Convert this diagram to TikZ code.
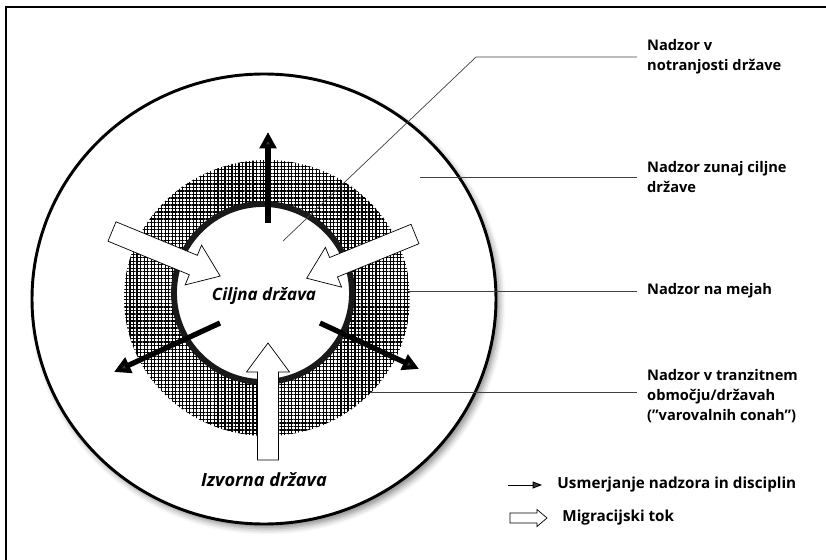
\documentclass[tikz,border=0pt]{standalone}
\usepackage{fontspec}
\setsansfont{Open Sans}
\usetikzlibrary{arrows.meta,patterns.meta,shadows.blur,positioning}

\tikzset{
  lbltxt/.style={anchor=west,align=left,inner xsep=8.5pt,inner ysep=0pt,
    font=\sffamily\bfseries\fontsize{12.5}{17}\selectfont},
  legtxt/.style={anchor=west,inner xsep=13pt,inner ysep=0pt,
    font=\sffamily\bfseries\fontsize{13}{15}\selectfont},
  statetxt/.style={inner sep=0pt,font=\sffamily\bfseries\itshape\fontsize{14.5}{17}\selectfont},
  leader/.style={line width=0.6pt,black!75},
  surv/.style={line width=4.5pt,-{Triangle[length=14pt,width=14pt]}},
  migflow/.style={line width=0.6pt,fill=white,line join=miter}
}

\newcommand{\migarrow}[2]{%
  \draw[migflow,shift={#1},rotate=#2]
    (0,-10.5) -- (88,-10.5) -- (88,-21.5) -- (117,0) -- (88,21.5) -- (88,10.5) -- (0,10.5) -- cycle;}

\begin{document}
\begin{tikzpicture}[x=0.03cm,y=-0.03cm]
\useasboundingbox (0,0) rectangle (826,560);

\def\frameline{1.2pt}
\def\outerline{2.5pt}
\def\innerline{5pt}

% frame
\draw[line width=\frameline] (6,7) rectangle (860,580);

% outside the target state
\draw[line width=\outerline,fill=white,
  blur shadow={shadow xshift=3pt,shadow yshift=-4pt,shadow blur radius=5pt,shadow opacity=45}]
  (264,299) ellipse [x radius=232, y radius=225];

% buffer zones (hatched)
\fill[pattern={Hatch[distance=3pt,line width=1pt]}] (267,298) ellipse [x radius=143, y radius=138];
\fill[white] (263,293) circle [radius=89];
\draw[line width=\innerline,black!90] (263,293) circle [radius=89];

% directions of control
\coordinate (up0) at (268,223);
\coordinate (up1) at (268,132);
\coordinate (lf0) at (220,323);
\coordinate (lf1) at (114,372);
\coordinate (rt0) at (320,323);
\coordinate (rt1) at (419,369);
\draw[surv] (up0) -- (up1);
\draw[surv] (lf0) -- (lf1);
\draw[surv] (rt0) -- (rt1);

% migration flows
\migarrow{(112,231.5)}{-22.4}
\migarrow{(415,234)}{202.2}
\migarrow{(268,460)}{90}

\node[statetxt] (ciljna) at (264,296) {Ciljna država};
\node[statetxt,font=\sffamily\bfseries\itshape\fontsize{15.5}{17}\selectfont] (izvorna) at (264,480) {Izvorna država};

% labels on the right
\node[lbltxt] (notr) at (637,57) {Nadzor v\\notranjosti države};
\node[lbltxt] (zunaj) at (637,177) {Nadzor zunaj ciljne\\države};
\node[lbltxt] (meja) at (637,291) {Nadzor na mejah};
\node[lbltxt] (tranz) at (637,396) {Nadzor v tranzitnem\\območju/državah\\(”varovalnih conah”)};

\coordinate (p1) at (283,241);
\coordinate (p1b) at (476,57);
\coordinate (p2) at (420,177);
\coordinate (p3) at (407,291);
\coordinate (p4) at (370,392);
\draw[leader] (p1) -- (p1b) -- (notr.west);
\draw[leader] (p2) -- (zunaj.west);
\draw[leader] (p3) -- (meja.west);
\draw[leader] (p4) -- (p4 -| tranz.west);

% legend
\coordinate (lgA) at (508,485);
\node[legtxt] (usm) at (542,485) {Usmerjanje nadzora in disciplin};
\draw[line width=0.8pt,-{Triangle[length=8pt,width=6pt]}] (lgA) -- (usm.west);
\draw[migflow] (510,513) -- (537,513) -- (537,509.5) -- (547,518) -- (537,526.5) -- (537,523) -- (510,523) -- cycle;
\node[legtxt] (mig) at (547,518) {Migracijski tok};

\end{tikzpicture}
\end{document}
